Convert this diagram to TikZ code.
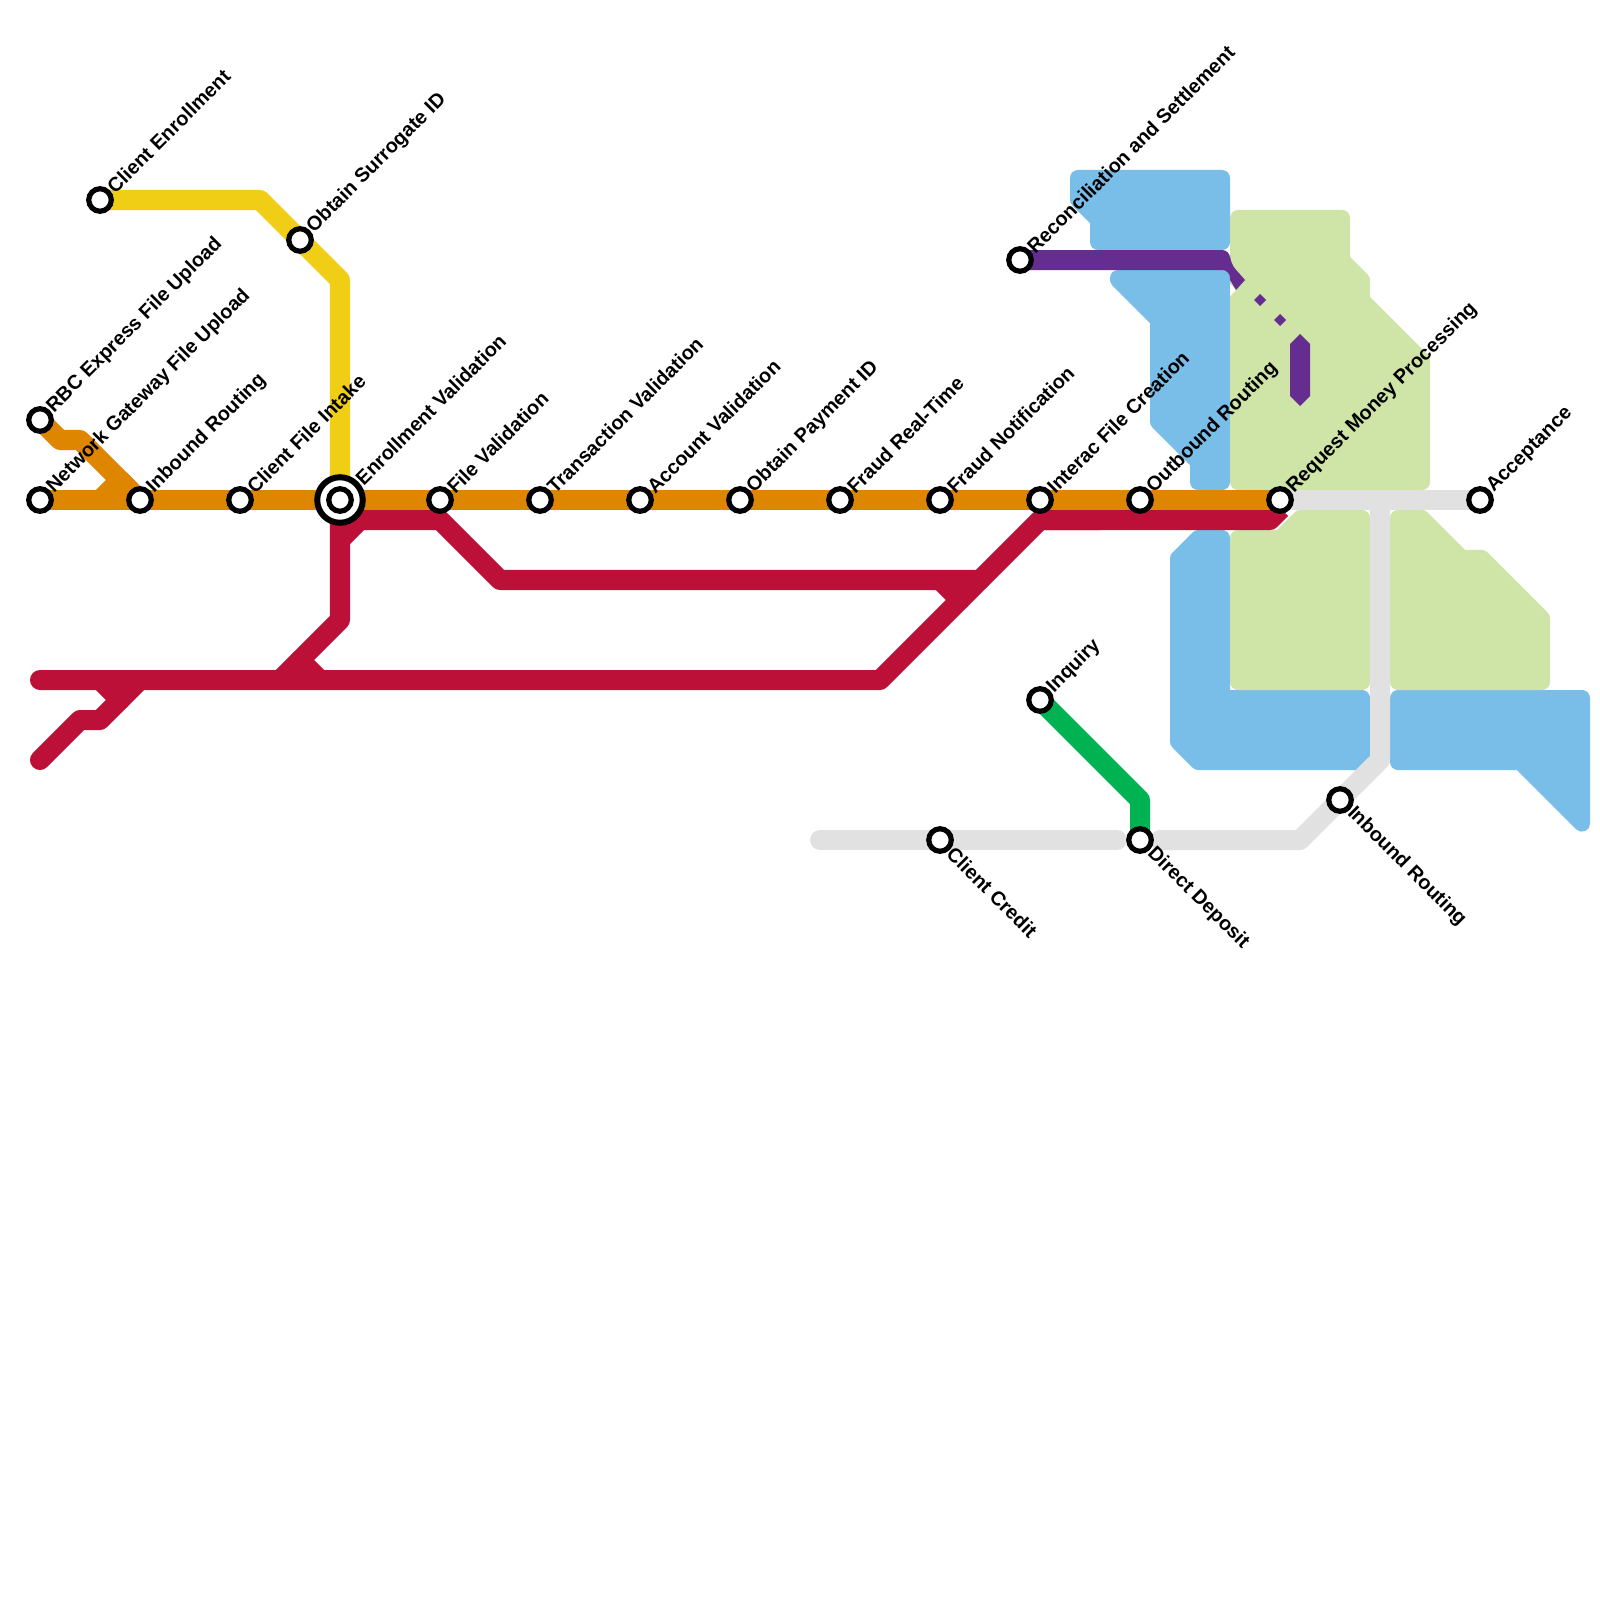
\documentclass[tikz,border=0pt]{standalone}
\usepackage{fontspec}
\setmainfont{Liberation Sans}
\definecolor{cOrange}{HTML}{DF8600}
\definecolor{cCrimson}{HTML}{BD1038}
\definecolor{cYellow}{HTML}{F0CE15}
\definecolor{cBlue}{HTML}{79BDE9}
\definecolor{cLime}{HTML}{CFE4A7}
\definecolor{cPurple}{HTML}{662D91}
\definecolor{cGreen}{HTML}{00B251}
\definecolor{cGray}{HTML}{E1E1E1}
\tikzset{
  area/.style={fill=#1,draw=#1,line width=0.16cm,line join=round},
  metro/.style={draw=#1,line width=0.2cm,line join=round},
  stnode/.style={circle,draw=black,fill=white,line width=0.052cm,minimum size=0.225cm,inner sep=0pt},
  bignode/.style={circle,draw=black,fill=white,line width=0.06cm,minimum size=0.455cm,inner sep=0pt},
  lbl/.style={font=\bfseries\fontsize{5.65pt}{7pt}\selectfont,text=black,inner xsep=0.14cm,inner ysep=0pt},
  lblup/.style={lbl,rotate=45,anchor=west},
  lbldown/.style={lbl,rotate=-45,anchor=west},
}
\newcommand{\stnup}[2]{\node[stnode] (#1) at (p#1) {}; \node[lblup] (l#1) at (p#1) {#2};}
\newcommand{\stndown}[2]{\node[stnode] (#1) at (p#1) {}; \node[lbldown] (l#1) at (p#1) {#2};}
\begin{document}
\begin{tikzpicture}[x=0.01cm,y=-0.01cm]
\useasboundingbox (0,0) rectangle (1600,1600);
% station positions
\coordinate (pclientenroll) at (100,200);
\coordinate (psurrogate) at (300,240);
\coordinate (prbc) at (40,420);
\coordinate (pnetgw) at (40,500);
\coordinate (pinroute) at (140,500);
\coordinate (pintake) at (240,500);
\coordinate (penrollval) at (340,500);
\coordinate (pfileval) at (440,500);
\coordinate (ptxval) at (540,500);
\coordinate (pacctval) at (640,500);
\coordinate (ppayid) at (740,500);
\coordinate (pfraudrt) at (840,500);
\coordinate (pfraudnote) at (940,500);
\coordinate (pinterac) at (1040,500);
\coordinate (poutbound) at (1140,500);
\coordinate (prequest) at (1280,500);
\coordinate (paccept) at (1480,500);
\coordinate (precon) at (1020,260);
\coordinate (pinquiry) at (1040,700);
\coordinate (pcredit) at (940,840);
\coordinate (pdeposit) at (1140,840);
\coordinate (pinbound) at (1340,800);
% blue areas
\path[area=cBlue] (1078,178) -- (1222,178) -- (1222,242) -- (1098,242) -- (1098,219.7) -- (1078,199.7) -- cycle;
\path[area=cBlue] (1118,278) -- (1222,278) -- (1222,482) -- (1198,482) -- (1198,461.7) -- (1158,421.7) -- (1158,319.7) -- (1118,279.7) -- cycle;
\path[area=cBlue] (1178,558.3) -- (1198.3,538) -- (1222,538) -- (1222,698) -- (1362,698) -- (1362,762) -- (1198.3,762) -- (1178,741.7) -- cycle;
\path[area=cBlue] (1398,698) -- (1582,698) -- (1582,823.7) -- (1520.3,762) -- (1398,762) -- cycle;
% lime areas
\path[area=cLime] (1238,218) -- (1342,218) -- (1342,260.3) -- (1362,280.3) -- (1362,300.3) -- (1422,360.3) -- (1422,482) -- (1238,482) -- cycle;
\fill[white] (1230,284) -- (1236,290) -- (1230,296) -- cycle;
\path[area=cLime] (1238,538) -- (1280.3,538) -- (1300.3,518) -- (1362,518) -- (1362,682) -- (1238,682) -- cycle;
\path[area=cLime] (1398,518) -- (1421.7,518) -- (1461.7,558) -- (1481.7,558) -- (1542,618.3) -- (1542,682) -- (1398,682) -- cycle;
% gray lines
\draw[metro=cGray,line cap=round] (820,840) -- (1117,840);
\draw[metro=cGray,line cap=round] (1160,840) -- (1300,840) -- (1380,760) -- (1380,500);
\draw[metro=cGray,line cap=round] (prequest) -- (paccept);
% purple
\fill[cPurple,rounded corners=0.02cm] (1020,250) -- (1220,250) [rounded corners=0.08cm] -- (1230,250) -- (1230,263) [sharp corners] -- (1245,280) -- (1236,290) -- (1230,280) [rounded corners=0.08cm] -- (1230,270) -- (1020,270) -- cycle;
\fill[cPurple] (1260,294) -- (1266,300) -- (1260,306) -- (1254,300) -- cycle;
\fill[cPurple] (1280,314) -- (1286,320) -- (1280,326) -- (1274,320) -- cycle;
\fill[cPurple] (1300,334) -- (1310,344) -- (1310,396) -- (1300,406) -- (1290,396) -- (1290,344) -- cycle;
% green
\draw[metro=cGreen] (pinquiry) -- (1140,800) -- (pdeposit);
% yellow
\draw[metro=cYellow] (pclientenroll) -- (260,200) -- (340,280) -- (penrollval);
% crimson
\draw[metro=cCrimson,line cap=round] (40,680) -- (880,680) -- (1040,520) -- (1100,520);
\draw[metro=cCrimson] (1040,520) -- (1270,520) -- (1281,509);
\draw[metro=cCrimson,line cap=round] (penrollval) -- (340,620) -- (280,680);
\draw[metro=cCrimson,line cap=round] (300,660) -- (320,680);
\draw[metro=cCrimson,line cap=round] (340,540) -- (360,520) -- (440,520) -- (500,580) -- (980,580);
\draw[metro=cCrimson,line cap=round] (940,580) -- (960,600);
\draw[metro=cCrimson,line cap=round] (40,760) -- (80,720) -- (100,720) -- (140,680);
\draw[metro=cCrimson,line cap=round] (100,680) -- (120,700);
% orange
\draw[metro=cOrange] (pnetgw) -- (prequest);
\draw[metro=cOrange] (prbc) -- (60,440) -- (80,440) -- (pinroute);
\draw[metro=cOrange] (100,500) -- (120,480) -- (130,490);
% stations
\stnup{clientenroll}{Client Enrollment}
\stnup{surrogate}{Obtain Surrogate ID}
\stnup{rbc}{RBC Express File Upload}
\stnup{netgw}{Network Gateway File Upload}
\stnup{inroute}{Inbound Routing}
\stnup{intake}{Client File Intake}
\node[bignode] (enrollbig) at (penrollval) {};
\node[stnode] (enrollval) at (penrollval) {};
\node[lblup,inner xsep=0.26cm] (lenrollval) at (penrollval) {Enrollment Validation};
\stnup{fileval}{File Validation}
\stnup{txval}{Transaction Validation}
\stnup{acctval}{Account Validation}
\stnup{payid}{Obtain Payment ID}
\stnup{fraudrt}{Fraud Real-Time}
\stnup{fraudnote}{Fraud Notification}
\stnup{interac}{Interac File Creation}
\stnup{outbound}{Outbound Routing}
\stnup{request}{Request Money Processing}
\stnup{accept}{Acceptance}
\stnup{recon}{Reconciliation and Settlement}
\stnup{inquiry}{Inquiry}
\stndown{credit}{Client Credit}
\stndown{deposit}{Direct Deposit}
\stndown{inbound}{Inbound Routing}
\end{tikzpicture}
\end{document}
